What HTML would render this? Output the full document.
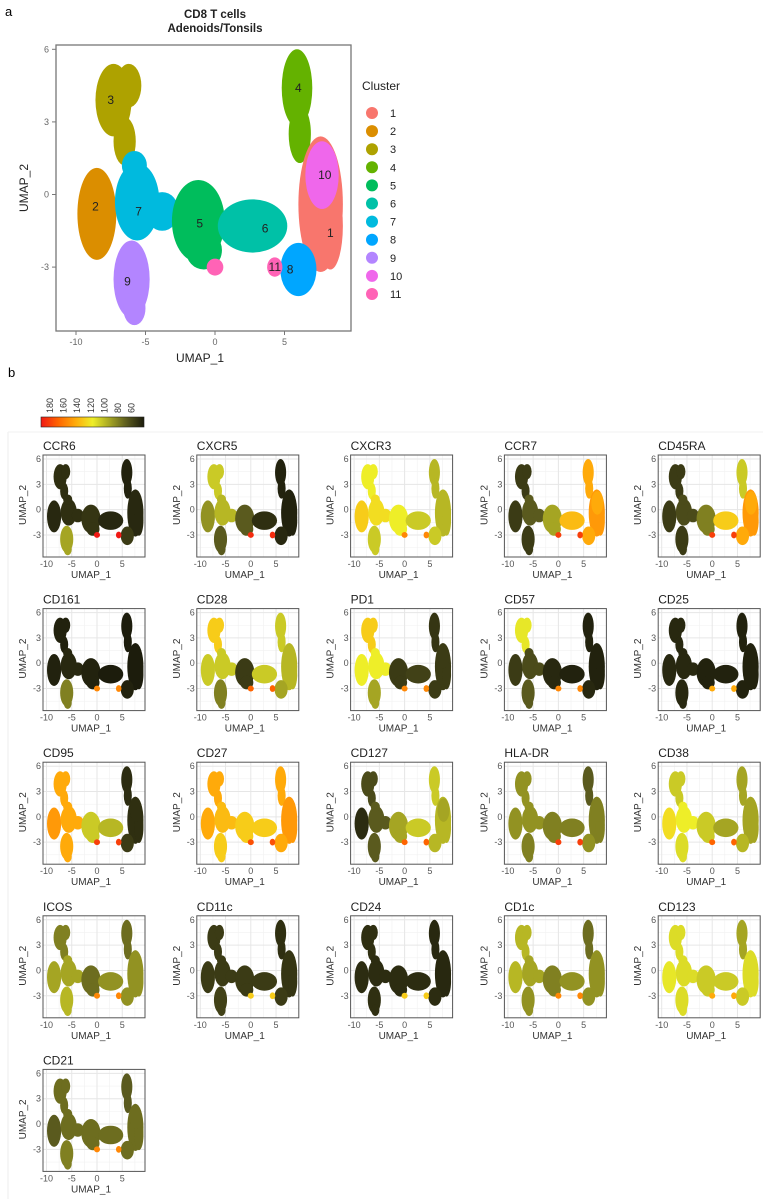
<!DOCTYPE html>
<html><head><meta charset="utf-8">
<style>
html,body{margin:0;padding:0;background:#fff;}
body{width:763px;height:1199px;overflow:hidden;font-family:"Liberation Sans",sans-serif;}
svg text{font-family:"Liberation Sans",sans-serif;}
</style></head>
<body>
<svg id="fig" width="763" height="1199" viewBox="0 0 763 1199" xmlns="http://www.w3.org/2000/svg">
<rect x="0" y="0" width="763" height="1199" fill="#fff"/>
<line x1="8" y1="432" x2="8" y2="1199" stroke="#eee" stroke-width="1"/>
<line x1="8" y1="432" x2="763" y2="432" stroke="#f2f2f2" stroke-width="1"/>
<text x="5" y="16" font-size="13">a</text>
<text x="8" y="377" font-size="13">b</text>
<text x="215" y="18" font-size="11.5" font-weight="bold" text-anchor="middle" fill="#222">CD8 T cells</text>
<text x="215" y="32" font-size="11.5" font-weight="bold" text-anchor="middle" fill="#222">Adenoids/Tonsils</text>
<g id="main"></g>
<g id="legend"></g>
<g id="cbar"></g>
<g id="panels"></g>
</svg>
<script>
// ---- data ----
const clusterIds = [1,2,3,4,5,6,7,8,9,10,11];
const clusterColors = ["#F8766D","#DB8E00","#AEA200","#64B200","#00BD5C","#00C1A7","#00BADE","#00A6FF","#B385FF","#EF67EB","#FF63B6"];
// blob shapes: [cluster, cx, cy, rx, ry] in UMAP units
const blobCluster = [3,3,3,2,9,9,7,7,7,5,5,6,4,4,1,1,10,8,11,11];
const blobCx = [-7.3,-6.2,-6.5,-8.5,-6.0,-5.8,-5.6,-3.8,-5.8,-1.2,-0.8,2.7,5.9,6.1,7.6,8.3,7.7,6.0,0.0,4.3];
const blobCy = [3.9,4.5,2.2,-0.8,-3.5,-4.7,-0.3,-0.7,1.2,-1.1,-2.3,-1.3,4.4,2.5,-0.4,-1.3,0.8,-3.1,-3.0,-3.0];
const blobRx = [1.3,0.9,0.8,1.4,1.3,0.8,1.6,1.2,0.9,1.9,1.3,2.5,1.1,0.8,1.6,0.9,1.2,1.3,0.6,0.55];
const blobRy = [1.5,0.9,1.0,1.9,1.6,0.7,1.6,0.8,0.6,1.7,0.8,1.1,1.6,1.2,2.8,1.8,1.4,1.1,0.35,0.4];
const labelText = ["1","2","3","4","5","6","7","8","9","10","11"];
const labelX = [8.3,-8.6,-7.5,6.0,-1.1,3.6,-5.5,5.4,-6.3,7.9,4.3];
const labelY = [-1.6,-0.5,3.9,4.4,-1.2,-1.4,-0.7,-3.1,-3.6,0.8,-3.0];
const xTicks = [-10,-5,0,5];
const yTicks = [6,3,0,-3];
const cbarTicks = [180,160,140,120,100,80,60];
const markers = ["CCR6","CXCR5","CXCR3","CCR7","CD45RA","CD161","CD28","PD1","CD57","CD25","CD95","CD27","CD127","HLA-DR","CD38","ICOS","CD11c","CD24","CD1c","CD123","CD21"];
// expression per cluster (order 1..11)
const exprCCR6  =[64,64,66,62,68,64,66,70,100,64,180];
const exprCXCR5 =[62,95,110,62,80,66,105,64,80,62,175];
const exprCXCR3 =[105,130,120,105,120,110,125,110,110,105,150];
const exprCCR7  =[145,70,70,140,100,135,80,140,70,140,170];
const exprCD45RA=[145,70,70,110,90,130,75,140,70,140,170];
const exprCD161 =[60,62,62,60,62,60,64,62,90,60,150];
const exprCD28  =[105,110,130,110,70,110,110,100,90,105,160];
const exprPD1   =[70,120,130,68,70,72,120,70,100,70,150];
const exprCD57  =[62,70,118,62,64,62,75,64,80,62,150];
const exprCD25  =[62,64,64,62,62,62,64,62,64,62,140];
const exprCD95  =[66,145,140,65,110,105,140,70,140,66,170];
const exprCD27  =[145,140,140,140,130,130,135,140,130,145,165];
const exprCD127 =[105,65,75,110,100,110,80,105,80,100,160];
const exprHLADR =[90,95,95,80,90,90,95,95,90,90,170];
const exprCD38  =[100,125,110,100,110,100,120,105,115,100,160];
const exprICOS  =[95,100,90,85,85,95,100,95,105,95,150];
const exprCD11c =[68,70,70,66,70,70,70,70,72,68,130];
const exprCD24  =[64,65,66,64,65,65,65,65,66,64,130];
const exprCD1c  =[95,105,105,85,90,95,100,95,95,95,150];
const exprCD123 =[115,118,115,100,110,110,115,110,115,115,140];
const exprCD21  =[85,80,85,80,85,85,85,85,90,85,150];
const exprAll = [exprCCR6,exprCXCR5,exprCXCR3,exprCCR7,exprCD45RA,exprCD161,exprCD28,exprPD1,exprCD57,exprCD25,exprCD95,exprCD27,exprCD127,exprHLADR,exprCD38,exprICOS,exprCD11c,exprCD24,exprCD1c,exprCD123,exprCD21];

const NS="http://www.w3.org/2000/svg";
function mk(tag,attrs,parent){const e=document.createElementNS(NS,tag);for(const k in attrs)e.setAttribute(k,attrs[k]);parent.appendChild(e);return e;}

// colormap
const cmStops=[[60,[28,28,12]],[80,[90,90,30]],[100,[165,165,35]],[120,[238,238,40]],[140,[255,170,10]],[160,[255,100,0]],[180,[240,25,20]]];
function cmap(v){v=Math.max(60,Math.min(180,v));for(let i=0;i<cmStops.length-1;i++){const a=cmStops[i],b=cmStops[i+1];if(v<=b[0]){const t=(v-a[0])/(b[0]-a[0]);const c=a[1].map((x,j)=>Math.round(x+(b[1][j]-x)*t));return `rgb(${c[0]},${c[1]},${c[2]})`;}}return "rgb(240,25,20)";}

// ---- main plot ----
const main=document.getElementById('main');
const M={l:56,t:45,w:295,h:286,x0:215,sx:13.9,y0:194.5,sy:24.2};
const mx=v=>M.x0+M.sx*v, my=v=>M.y0-M.sy*v;
const mbg=mk('rect',{x:M.l,y:M.t,width:M.w,height:M.h,fill:"#fff",stroke:"#777","stroke-width":1.3},main);

for(let i=0;i<blobCluster.length;i++){
  const ci=clusterIds.indexOf(blobCluster[i]);
  const e=mk('ellipse',{cx:mx(blobCx[i]),cy:my(blobCy[i]),rx:M.sx*blobRx[i],ry:M.sy*blobRy[i],fill:clusterColors[ci]},main);
  
  
}
for(let i=0;i<labelText.length;i++){
  const t=mk('text',{x:mx(labelX[i]),y:my(labelY[i])+4,"font-size":12,"text-anchor":"middle",fill:"#222"},main);t.textContent=labelText[i];
  
  
}
xTicks.forEach(v=>{mk('line',{x1:mx(v),x2:mx(v),y1:M.t+M.h,y2:M.t+M.h+4,stroke:"#777"},main);
  const t=mk('text',{x:mx(v),y:M.t+M.h+14,"font-size":9,"text-anchor":"middle",fill:"#666"},main);t.textContent=v;
  });
yTicks.forEach(v=>{mk('line',{x1:M.l-4,x2:M.l,y1:my(v),y2:my(v),stroke:"#777"},main);
  const t=mk('text',{x:M.l-7,y:my(v)+3,"font-size":9,"text-anchor":"end",fill:"#666"},main);t.textContent=v;
  });
let t=mk('text',{x:200,y:362,"font-size":12,"text-anchor":"middle",fill:"#222"},main);t.textContent="UMAP_1";

t=mk('text',{x:0,y:0,"font-size":12,"text-anchor":"middle",fill:"#222",transform:"translate(28,188) rotate(-90)"},main);t.textContent="UMAP_2";


// legend
const lg=document.getElementById('legend');
t=mk('text',{x:362,y:90,"font-size":12,fill:"#222"},lg);t.textContent="Cluster";

clusterIds.forEach((c,i)=>{
  const g=mk('g',{},lg);
  
  
  const y=113+18.1*i;
  mk('circle',{cx:372,cy:y,r:6,fill:clusterColors[i]},g);
  const tt=mk('text',{x:390,y:y+4,"font-size":11,fill:"#222"},g);tt.textContent=c;
});

// colorbar
const cb=document.getElementById('cbar');
const defs=mk('defs',{},cb);
const grad=mk('linearGradient',{id:"cg",x1:"0",x2:"1",y1:"0",y2:"0"},defs);
[180,160,140,120,100,80,60].forEach((v,i)=>mk('stop',{offset:(i/6),"stop-color":cmap(v)},grad));
const cbr=mk('rect',{x:41,y:417,width:103,height:10,fill:"url(#cg)",stroke:"#222","stroke-width":0.6},cb);

cbarTicks.forEach((v,i)=>{
  const x=50+i*13.6;
  const tt=mk('text',{x:0,y:0,"font-size":9,fill:"#333",transform:`translate(${x+3},413) rotate(-90)`},cb);tt.textContent=v;
  
});

// small panels
const pn=document.getElementById('panels');
markers.forEach((name,k)=>{
  const col=k%5,row=Math.floor(k/5);
  const L=43+col*153.8,T=455+row*153.6,W=102,H=102;
  const px=v=>L+54+5.05*v, py=v=>T+4+8.44*(6-v);
  const g=mk('g',{},pn);
  
  
  const tt=mk('text',{x:L,y:T-5,"font-size":12,fill:"#222"},g);tt.textContent=name;
  
  mk('rect',{x:L,y:T,width:W,height:H,fill:"#fff"},g);
  [-7.5,-2.5,2.5,7.5].forEach(v=>mk('line',{x1:px(v),x2:px(v),y1:T,y2:T+H,stroke:"#f1f1f1","stroke-width":0.6},g));
  [4.5,1.5,-1.5,-4.5].forEach(v=>mk('line',{x1:L,x2:L+W,y1:py(v),y2:py(v),stroke:"#f1f1f1","stroke-width":0.6},g));
  xTicks.forEach(v=>mk('line',{x1:px(v),x2:px(v),y1:T,y2:T+H,stroke:"#e6e6e6","stroke-width":1},g));
  yTicks.forEach(v=>mk('line',{x1:L,x2:L+W,y1:py(v),y2:py(v),stroke:"#e6e6e6","stroke-width":1},g));
  const vals=exprAll[k];
  for(let i=0;i<blobCluster.length;i++){
    const ci=clusterIds.indexOf(blobCluster[i]);
    const e=mk('ellipse',{cx:px(blobCx[i]),cy:py(blobCy[i]),rx:5.05*blobRx[i],ry:8.44*blobRy[i],fill:cmap(vals[ci])},g);
    
    
  }
  mk('rect',{x:L,y:T,width:W,height:H,fill:"none",stroke:"#555","stroke-width":1},g);
  xTicks.forEach(v=>{const a=mk('text',{x:px(v),y:T+H+10,"font-size":9,"text-anchor":"middle",fill:"#555"},g);a.textContent=v;
    });
  yTicks.forEach(v=>{const a=mk('text',{x:L-2,y:py(v)+3,"font-size":9,"text-anchor":"end",fill:"#555"},g);a.textContent=v;
    });
  const xa=mk('text',{x:L+48,y:T+H+21,"font-size":10,"text-anchor":"middle",fill:"#333"},g);xa.textContent="UMAP_1";
  
  const ya=mk('text',{x:0,y:0,"font-size":10,"text-anchor":"middle",fill:"#333",transform:`translate(${L-17},${T+50}) rotate(-90)`},g);ya.textContent="UMAP_2";
  
});
</script>
</body></html>
